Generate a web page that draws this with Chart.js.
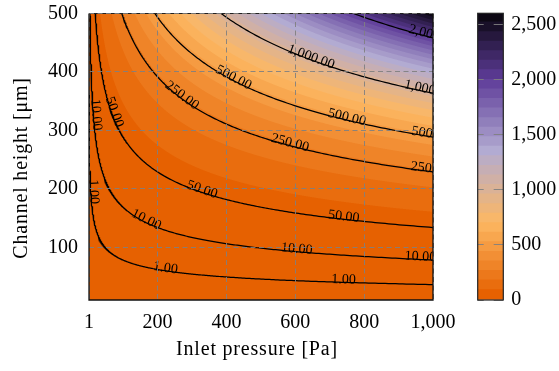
<!DOCTYPE html>
<html>
<head>
<meta charset="utf-8">
<script src="https://cdn.jsdelivr.net/npm/chart.js@4.4.1/dist/chart.umd.min.js"></script>
<style>
  html, body { margin: 0; padding: 0; background: #fff; }
  #wrap { position: relative; width: 559px; height: 371px; }
  .box { position: absolute; top: 0; }
</style>
</head>
<body>
<div id="wrap">
  <div class="box" style="left:0;width:559px;height:371px"><canvas id="main"></canvas></div>
  <div class="box" style="left:440px;width:119px;height:371px"><canvas id="cbar"></canvas></div>
</div>
<script>
// ---- sampled field: flow through the channel at each (pressure, height) node ----
const pressureGrid = [1, 200, 400, 600, 800, 1000];   // Pa
const heightGrid   = [10, 100, 200, 300, 400, 500];   // µm
const flowAtH10  = [0.0000208, 0.00416, 0.00832, 0.0125, 0.0166, 0.0208];
const flowAtH100 = [0.0208, 4.16, 8.32, 12.5, 16.6, 20.8];
const flowAtH200 = [0.166, 33.3, 66.6, 99.8, 133.1, 166.4];
const flowAtH300 = [0.562, 112.3, 224.6, 337.0, 449.3, 561.6];
const flowAtH400 = [1.331, 266.2, 532.5, 798.7, 1065, 1331];
const flowAtH500 = [2.6, 520, 1040, 1560, 2080, 2600];

// ---- contour lines and their labels ----
const contourLevels  = [1, 10, 50, 250, 500, 1000, 2000];
const labelLevels    = [1, 1, 1, 10, 10, 10, 10, 50, 50, 50, 250, 250, 250, 500, 500, 500, 1000, 1000, 2000];
const labelPressures = [6.5, 222, 740, 13.8, 164, 604, 963, 67, 327, 740, 266, 583, 990, 417, 748, 992, 643, 985, 997];

// ---- axes / colour scale ----
const xTicks = [1, 200, 400, 600, 800, 1000];
const yTicks = [100, 200, 300, 400, 500];
const colorbarTicks = [0, 500, 1000, 1500, 2000, 2500];
const colorbarMax = 2600;
const fillBands = 30;
const colormapColors = ['#e66101', '#fdb863', '#b2abd2', '#5e3c99', '#000000'];

const flowGrid = [flowAtH10, flowAtH100, flowAtH200, flowAtH300, flowAtH400, flowAtH500];
const logFlow = flowGrid.map(r => r.map(Math.log));
const bandWidth = colorbarMax / fillBands;

function hexRgb(h) { return [1, 3, 5].map(i => parseInt(h.slice(i, i + 2), 16)); }
const cmapRgb = colormapColors.map(hexRgb);
function cmap(v) {
  const t = Math.max(0, Math.min(1, v / colorbarMax)) * (cmapRgb.length - 1);
  const i = Math.min(cmapRgb.length - 2, Math.floor(t)), f = t - i;
  return cmapRgb[i].map((c, k) => Math.round(c + (cmapRgb[i + 1][k] - c) * f));
}
const bandRgb = Array.from({ length: fillBands }, (_, k) => cmap(k * bandWidth));
const bandCss = bandRgb.map(c => `rgb(${c[0]},${c[1]},${c[2]})`);

function locate(grid, v) {
  v = Math.max(grid[0], Math.min(grid[grid.length - 1], v));
  let i = 0;
  while (i < grid.length - 2 && v > grid[i + 1]) i++;
  const t = (Math.log(v) - Math.log(grid[i])) / (Math.log(grid[i + 1]) - Math.log(grid[i]));
  return [i, t];
}
// log-log bilinear lookup in the sampled table
function flowAt(p, h) {
  const [i, tp] = locate(pressureGrid, p);
  const [j, th] = locate(heightGrid, h);
  const a = logFlow[j][i], b = logFlow[j][i + 1], c = logFlow[j + 1][i], d = logFlow[j + 1][i + 1];
  return Math.exp((a * (1 - tp) + b * tp) * (1 - th) + (c * (1 - tp) + d * tp) * th);
}
function heightFor(level, p) {
  let lo = Math.log(10), hi = Math.log(500);
  for (let k = 0; k < 50; k++) {
    const m = (lo + hi) / 2;
    if (flowAt(p, Math.exp(m)) < level) lo = m; else hi = m;
  }
  return Math.exp((lo + hi) / 2);
}
function contourPoints(level) {
  const pts = [];
  const n = 600;
  for (let s = 0; s <= n; s++) {
    const p = Math.pow(1000, s / n);
    if (flowAt(p, 500) < level || flowAt(p, 10) > level) continue;
    pts.push({ x: p, y: heightFor(level, p) });
  }
  if (flowAt(1, 500) < level && flowAt(1000, 500) >= level) {
    let lo = 0, hi = Math.log(1000);
    for (let k = 0; k < 50; k++) {
      const m = (lo + hi) / 2;
      if (flowAt(Math.exp(m), 500) < level) lo = m; else hi = m;
    }
    pts.unshift({ x: Math.exp(hi), y: 500 });
  }
  return pts;
}
const fmt = v => Number(v).toLocaleString('en-US');
const fmtLevel = v => Number(v).toLocaleString('en-US', { minimumFractionDigits: 2, maximumFractionDigits: 2 });

Chart.defaults.font.family = "'Liberation Serif', 'Times New Roman', serif";
Chart.defaults.font.size = 20;
Chart.defaults.color = '#000';

// filled contour bands, painted with the chart's own scales
const contourFill = {
  id: 'contourFill',
  beforeDatasetsDraw(chart) {
    const { ctx, chartArea: a, scales: { x, y } } = chart;
    const x0 = Math.floor(a.left), y0 = Math.floor(a.top);
    const w = Math.ceil(a.right) - x0, h = Math.ceil(a.bottom) - y0;
    const off = document.createElement('canvas');
    off.width = w; off.height = h;
    const octx = off.getContext('2d');
    const img = octx.createImageData(w, h);
    const S = 3;
    const colP = [], rowH = [];
    for (let i = 0; i < w * S; i++) colP.push(x.getValueForPixel(x0 + (i + 0.5) / S));
    for (let j = 0; j < h * S; j++) rowH.push(y.getValueForPixel(y0 + (j + 0.5) / S));
    for (let j = 0; j < h; j++) {
      for (let i = 0; i < w; i++) {
        let r = 0, g = 0, b = 0;
        for (let sj = 0; sj < S; sj++) for (let si = 0; si < S; si++) {
          const v = flowAt(colP[i * S + si], rowH[j * S + sj]);
          const c = bandRgb[Math.max(0, Math.min(fillBands - 1, Math.floor(v / bandWidth)))];
          r += c[0]; g += c[1]; b += c[2];
        }
        const o = (j * w + i) * 4;
        img.data[o] = r / (S * S); img.data[o + 1] = g / (S * S); img.data[o + 2] = b / (S * S); img.data[o + 3] = 255;
      }
    }
    octx.putImageData(img, 0, 0);
    ctx.save();
    ctx.beginPath(); ctx.rect(a.left, a.top, a.right - a.left, a.bottom - a.top); ctx.clip();
    ctx.drawImage(off, x0, y0);
    ctx.restore();
  },
  afterDatasetsDraw(chart) {
    const { ctx, chartArea: a, scales: { x, y } } = chart;
    ctx.save();
    ctx.beginPath(); ctx.rect(a.left, a.top, a.right - a.left, a.bottom - a.top); ctx.clip();
    ctx.font = "14px 'Liberation Serif', serif";
    ctx.fillStyle = '#000';
    ctx.textAlign = 'center';
    ctx.textBaseline = 'alphabetic';
    labelLevels.forEach((L, k) => {
      const p = labelPressures[k];
      const d = 0.6 / 0.3442;
      const p1 = Math.max(1, p - d), p2 = Math.min(1000, p + d);
      const xa = x.getPixelForValue(p1), ya = y.getPixelForValue(heightFor(L, p1));
      const xb = x.getPixelForValue(p2), yb = y.getPixelForValue(heightFor(L, p2));
      const px = x.getPixelForValue(p), py = y.getPixelForValue(heightFor(L, p));
      const ang = Math.atan2(yb - ya, xb - xa);
      ctx.save();
      ctx.translate(px, py);
      ctx.rotate(ang);
      ctx.fillText(fmtLevel(L), 0, 1);
      ctx.restore();
    });
    ctx.restore();
    // top edge of the frame (grid dashes are drawn over it)
    ctx.save();
    ctx.strokeStyle = '#222'; ctx.lineWidth = 1.2;
    ctx.beginPath(); ctx.moveTo(a.left, a.top); ctx.lineTo(a.right, a.top); ctx.stroke();
    ctx.restore();
  },
  afterDraw(chart) {
    const { ctx, chartArea: a } = chart;
    ctx.save();
    ctx.strokeStyle = '#111'; ctx.lineWidth = 1.3;
    ctx.beginPath();
    ctx.moveTo(a.left, a.top); ctx.lineTo(a.left, a.bottom); ctx.lineTo(a.right, a.bottom); ctx.lineTo(a.right, a.top);
    ctx.stroke();
    // axis titles
    ctx.fillStyle = '#000';
    ctx.font = "20px 'Liberation Serif', serif";
    ctx.letterSpacing = '0.8px';
    ctx.textAlign = 'center';
    ctx.textBaseline = 'alphabetic';
    ctx.fillText('Inlet pressure [Pa]', 257, 355);
    ctx.translate(27, 168);
    ctx.rotate(-Math.PI / 2);
    ctx.fillText('Channel height [μm]', 0, 0);
    ctx.restore();
  }
};

const gridStyle = { color: 'rgba(128,128,128,0.9)', lineWidth: 1, drawTicks: false, z: 1 };
// keep tick-label overflow from pushing the plot area around
const noScalePad = s => { s.paddingTop = 0; s.paddingBottom = 0; };

new Chart(document.getElementById('main'), {
  type: 'scatter',
  data: {
    datasets: contourLevels.map(L => ({
      label: fmtLevel(L),
      data: contourPoints(L),
      showLine: true,
      borderColor: '#000',
      borderWidth: 1.25,
      pointRadius: 0,
      tension: 0,
      fill: false
    }))
  },
  options: {
    responsive: true,
    maintainAspectRatio: false,
    animation: false,
    layout: { padding: { top: 13.5, right: 126, bottom: 0, left: 0 } },
    plugins: { legend: { display: false }, tooltip: { enabled: false } },
    scales: {
      x: {
        type: 'linear', min: 1, max: 1000,
        afterBuildTicks: s => { s.ticks = xTicks.map(v => ({ value: v })); },
        afterFit: s => { s.height = 71; },
        grid: gridStyle,
        border: { display: false, dash: [5, 3.5] },
        ticks: { padding: 11, autoSkip: false, maxRotation: 0, callback: v => fmt(v) }
      },
      y: {
        type: 'linear', min: 10, max: 500,
        afterBuildTicks: s => { s.ticks = yTicks.map(v => ({ value: v })); },
        afterFit: s => { s.width = 89; noScalePad(s); },
        grid: gridStyle,
        border: { display: false, dash: [5, 3.5] },
        ticks: { padding: 11, autoSkip: false, callback: v => fmt(v) }
      }
    }
  },
  plugins: [contourFill]
});

// colour bar: one floating bar per fill band on a value axis
const colorbarFrame = {
  id: 'colorbarFrame',
  afterDraw(chart) {
    const { ctx, chartArea: a } = chart;
    ctx.save();
    ctx.strokeStyle = '#222'; ctx.lineWidth = 1.2;
    ctx.strokeRect(a.left, a.top, a.right - a.left, a.bottom - a.top);
    ctx.restore();
  }
};
new Chart(document.getElementById('cbar'), {
  type: 'bar',
  data: {
    labels: [''],
    datasets: bandCss.map((c, k) => ({
      data: [[k * bandWidth, Math.min(colorbarMax, (k + 1) * bandWidth + bandWidth * 0.1)]],
      backgroundColor: c,
      borderWidth: 0,
      barPercentage: 1,
      categoryPercentage: 1,
      grouped: false
    }))
  },
  options: {
    responsive: true,
    maintainAspectRatio: false,
    animation: false,
    layout: { padding: { left: 37.7, top: 13.3, bottom: 71, right: 0 } },
    plugins: { legend: { display: false }, tooltip: { enabled: false } },
    scales: {
      x: { display: false },
      y: {
        position: 'right', min: 0, max: colorbarMax,
        afterBuildTicks: s => { s.ticks = colorbarTicks.map(v => ({ value: v })); },
        afterFit: s => { s.width = 55.7; noScalePad(s); },
        grid: { color: 'rgba(128,128,128,0.9)', lineWidth: 1, drawTicks: false, z: 1 },
        border: { display: false, dash: [6, 10, 12] },
        ticks: { padding: 8, autoSkip: false, callback: v => fmt(v) }
      }
    }
  },
  plugins: [colorbarFrame]
});
</script>
</body>
</html>
